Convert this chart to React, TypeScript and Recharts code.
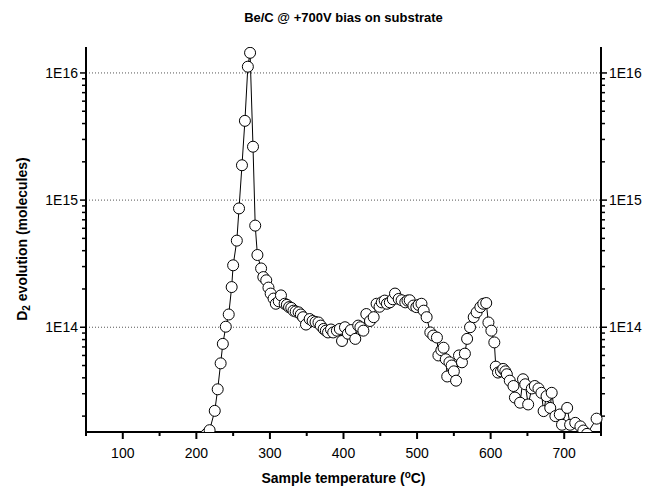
import { Line, LineChart, ReferenceLine, XAxis, YAxis } from "recharts";

// sample temperature (°C)
const temperatures = [
  214, 218, 225, 229, 233, 236, 240, 244, 248, 250, 255, 258, 262, 266, 270,
  273, 277, 280, 283, 288, 291, 295, 298, 301, 305, 308, 312, 315, 320, 323,
  326, 329, 332, 335, 339, 342, 345, 349, 354, 358, 362, 366, 369, 373, 376,
  379, 383, 386, 391, 395, 398, 402, 406, 410, 416, 420, 423, 427, 431, 436,
  441, 445, 449, 452, 456, 459, 463, 467, 470, 475, 479, 484, 487, 490, 495,
  499, 502, 506, 509, 513, 518, 522, 527, 529, 533, 536, 539, 541, 544, 547,
  550, 553, 557, 561, 565, 568, 572, 577, 581, 586, 590, 594, 597, 601, 605,
  607, 610, 614, 617, 620, 622, 626, 631, 633, 640, 644, 647, 651, 656, 660,
  665, 669, 672, 676, 681, 683, 688, 694, 697, 704, 708, 715, 722, 726, 731,
  744,
];

// D2 evolution (molecules)
const d2Evolution = [
  1.45e13, 1.55e13, 2.2e13, 3.25e13, 5.2e13, 7.4e13, 1.01e14, 1.26e14, 2.07e14,
  3.07e14, 4.8e14, 8.6e14, 1.88e15, 4.2e15, 1.12e16, 1.44e16, 2.63e15, 6.3e14,
  3.7e14, 2.9e14, 2.48e14, 2.34e14, 2.05e14, 1.84e14, 1.68e14, 1.53e14, 1.6e14,
  1.78e14, 1.53e14, 1.5e14, 1.44e14, 1.42e14, 1.35e14, 1.33e14, 1.31e14,
  1.26e14, 1.2e14, 1.05e14, 1.16e14, 1.12e14, 1.1e14, 1.09e14, 1.03e14, 9.7e13,
  9.4e13, 9.1e13, 9.6e13, 9.1e13, 9.4e13, 9.7e13, 7.8e13, 1.0e14, 8.9e13,
  9.5e13, 8.1e13, 1.03e14, 1.0e14, 9.4e13, 1.27e14, 1.12e14, 1.2e14, 1.53e14,
  1.45e14, 1.57e14, 1.62e14, 1.53e14, 1.57e14, 1.66e14, 1.84e14, 1.67e14,
  1.63e14, 1.57e14, 1.62e14, 1.63e14, 1.48e14, 1.44e14, 1.5e14, 1.53e14,
  1.35e14, 1.2e14, 9.1e13, 8.6e13, 8.3e13, 6.0e13, 6.6e13, 6.9e13, 5.6e13,
  4.1e13, 5.3e13, 5.0e13, 4.5e13, 3.8e13, 6.0e13, 5.3e13, 6.2e13, 8.1e13,
  1.0e14, 1.2e14, 1.31e14, 1.44e14, 1.53e14, 1.55e14, 1.09e14, 9.4e13, 7.6e13,
  4.9e13, 4.4e13, 4.5e13, 4.7e13, 4.5e13, 4.27e13, 3.8e13, 3.45e13, 2.8e13,
  2.55e13, 3.9e13, 3.56e13, 2.47e13, 3.3e13, 3.45e13, 3.3e13, 3.05e13, 2.19e13,
  2.87e13, 2.32e13, 3.05e13, 2.0e13, 2.06e13, 1.71e13, 2.32e13, 1.71e13,
  1.77e13, 1.66e13, 1.54e13, 1.45e13, 1.91e13,
];

const xTicks = [
  50, 100, 150, 200, 250, 300, 350, 400, 450, 500, 550, 600, 650, 700, 750,
];
const xLabelTicks = [100, 200, 300, 400, 500, 600, 700];
const decades = [1e13, 1e14, 1e15, 1e16];
const minorSteps = [2, 3, 4, 5, 6, 7, 8, 9];
const majorTicks = [1e14, 1e15, 1e16];
const yDomain = [1.5e13, 1.6e16];

const data = temperatures.map((t, i) => ({ t, v: d2Evolution[i] }));

const yTicks = [
  ...majorTicks,
  ...decades.flatMap((d) => minorSteps.map((k) => k * d)),
].filter((v) => v >= yDomain[0] && v <= yDomain[1]);

const FONT = "'Liberation Sans', Arial, sans-serif";

const isMajor = (v: number) => majorTicks.includes(v);
const expLabel = (v: number) => `1E${Math.round(Math.log10(v))}`;

function LeftTick({ x, y, payload }: any) {
  const major = isMajor(payload.value);
  return (
    <g>
      <line x1={x - (major ? 6 : 4)} x2={x} y1={y} y2={y} stroke="#000" strokeWidth={1.5} />
      {major && (
        <text x={x - 8} y={y} dy="0.35em" textAnchor="end" fontSize={14} fontFamily={FONT} fill="#000">
          {expLabel(payload.value)}
        </text>
      )}
    </g>
  );
}

function RightTick({ x, y, payload }: any) {
  const major = isMajor(payload.value);
  return (
    <g>
      <line x1={x} x2={x + (major ? 6 : 4)} y1={y} y2={y} stroke="#000" strokeWidth={1.5} />
      {major && (
        <text x={x + 8} y={y} dy="0.35em" textAnchor="start" fontSize={14} fontFamily={FONT} fill="#000">
          {expLabel(payload.value)}
        </text>
      )}
    </g>
  );
}

function BottomTick({ x, y, payload }: any) {
  const major = xLabelTicks.includes(payload.value);
  return (
    <g>
      <line x1={x} x2={x} y1={y} y2={y + (major ? 7 : 4)} stroke="#000" strokeWidth={2} />
      {major && (
        <text x={x} y={y + 21} dy="0.35em" textAnchor="middle" fontSize={14} fontFamily={FONT} fill="#000">
          {payload.value}
        </text>
      )}
    </g>
  );
}

function TopTick({ x, y }: any) {
  return <line x1={x} x2={x} y1={y} y2={y + 3} stroke="#000" strokeWidth={1.5} />;
}

export default function App() {
  const axisLine = { stroke: "#000", strokeWidth: 2 };
  return (
    <div
      style={{
        position: "absolute",
        left: 0,
        top: 0,
        width: 649,
        height: 489,
        background: "#fff",
        fontFamily: FONT,
      }}
    >
      <LineChart
        width={649}
        height={489}
        data={data}
        margin={{ top: 47, right: 0, bottom: 0, left: 0 }}
      >
        <XAxis
          xAxisId="bottom"
          dataKey="t"
          type="number"
          domain={[50, 750]}
          ticks={xTicks}
          interval={0}
          height={57}
          tickSize={0}
          tickMargin={0}
          tickLine={false}
          axisLine={axisLine}
          tick={<BottomTick />}
        />
        <XAxis
          xAxisId="top"
          orientation="top"
          dataKey="t"
          type="number"
          domain={[50, 750]}
          ticks={xTicks}
          interval={0}
          height={0}
          tickSize={0}
          tickMargin={0}
          tickLine={false}
          axisLine={axisLine}
          tick={<TopTick />}
        />
        <YAxis
          yAxisId="left"
          scale="log"
          type="number"
          domain={yDomain}
          allowDataOverflow
          ticks={yTicks}
          interval={0}
          width={86}
          tickSize={0}
          tickMargin={0}
          tickLine={false}
          axisLine={axisLine}
          tick={<LeftTick />}
        />
        <YAxis
          yAxisId="right"
          orientation="right"
          scale="log"
          type="number"
          domain={yDomain}
          allowDataOverflow
          ticks={yTicks}
          interval={0}
          width={48}
          tickSize={0}
          tickMargin={0}
          tickLine={false}
          axisLine={axisLine}
          tick={<RightTick />}
        />
        {majorTicks.map((v) => (
          <ReferenceLine
            key={v}
            xAxisId="bottom"
            yAxisId="left"
            y={v}
            stroke="#555"
            strokeDasharray="1 2"
            strokeWidth={1}
          />
        ))}
        <Line
          xAxisId="bottom"
          yAxisId="left"
          dataKey="v"
          type="linear"
          stroke="#000"
          strokeWidth={1}
          dot={{ r: 5.5, fill: "#fff", stroke: "#000", strokeWidth: 1 }}
          activeDot={false}
          isAnimationActive={false}
        />
      </LineChart>
      <div
        style={{
          position: "absolute",
          left: 86,
          top: 10,
          width: 515,
          textAlign: "center",
          fontSize: 13,
          fontWeight: "bold",
          lineHeight: "16px",
        }}
      >
        Be/C @ +700V bias on substrate
      </div>
      <div
        style={{
          position: "absolute",
          left: 86,
          top: 469,
          width: 515,
          textAlign: "center",
          fontSize: 14,
          fontWeight: "bold",
          lineHeight: "18px",
        }}
      >
        Sample temperature (<sup style={{ fontSize: 10, verticalAlign: "5px", lineHeight: 0 }}>o</sup>C)
      </div>
      <div
        style={{
          position: "absolute",
          left: 22 - 120,
          top: 239 - 9,
          width: 240,
          textAlign: "center",
          fontSize: 14,
          fontWeight: "bold",
          lineHeight: "18px",
          transform: "rotate(-90deg)",
        }}
      >
        D<sub style={{ fontSize: 10, verticalAlign: "-3px", lineHeight: 0 }}>2</sub> evolution (molecules)
      </div>
    </div>
  );
}
